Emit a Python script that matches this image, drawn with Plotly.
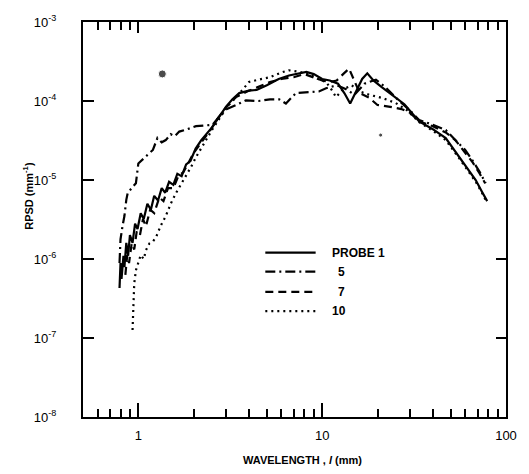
import plotly.graph_objects as go

# ---- data (wavelength in mm, RPSD in mm^-1) ----
p1_x = [0.79, 0.80, 0.81, 0.83, 0.84, 0.86, 0.88, 0.90, 0.93, 0.96, 0.99, 1.03, 1.07, 1.12, 1.17,
        1.22, 1.28, 1.34, 1.40, 1.47, 1.55, 1.63, 1.72, 1.82, 1.92, 2.05, 2.2, 2.35, 2.53, 2.75,
        3.0, 3.25, 3.54, 4.0, 4.4, 5.0, 5.8, 6.6, 7.5, 8.2, 9.0, 10, 11, 12.2, 13.2, 14.2, 15.5,
        16.5, 17.6, 19, 21, 24, 28, 33.7, 40, 47, 55.5, 62, 68.4, 74, 79]
p1_y = [4.3e-7, 8.9e-7, 5.6e-7, 1.1e-6, 7.9e-7, 1.6e-6, 1.1e-6, 2.0e-6, 1.6e-6, 2.8e-6, 2.4e-6,
        3.8e-6, 3.2e-6, 5.0e-6, 4.2e-6, 6.3e-6, 5.5e-6, 7.9e-6, 6.9e-6, 9.5e-6, 8.7e-6, 1.2e-5,
        1.12e-5, 1.58e-5, 1.74e-5, 2.5e-5, 3.2e-5, 3.8e-5, 4.7e-5, 6.3e-5, 8.5e-5, 1.05e-4,
        1.26e-4, 1.35e-4, 1.38e-4, 1.58e-4, 1.9e-4, 2.1e-4, 2.24e-4, 2.34e-4, 2.19e-4, 1.9e-4,
        1.82e-4, 1.66e-4, 1.26e-4, 9.3e-5, 1.41e-4, 1.9e-4, 2.24e-4, 1.82e-4, 1.51e-4, 1.2e-4,
        9.1e-5, 5.5e-5, 4.4e-5, 3.4e-5, 2.0e-5, 1.41e-5, 1.0e-5, 7.1e-6, 5.4e-6]

p5_x = [0.79, 0.80, 0.82, 0.84, 0.86, 0.875, 0.92, 0.97, 1.0, 1.06, 1.15, 1.20, 1.27, 1.34, 1.41,
        1.5, 1.58, 1.67, 1.85, 2.06, 2.3, 2.53, 2.75, 3.0, 3.4, 3.85, 4.5, 5.2, 5.84, 6.35, 7.2,
        8.5, 9.6, 10.5, 12, 13.5, 15, 17, 19.6, 22, 26, 30, 33.7, 40, 47, 53, 60, 65.6, 72, 77.5]
p5_y = [8.9e-7, 1.78e-6, 2.6e-6, 3.5e-6, 5.6e-6, 6.8e-6, 7.9e-6, 9.1e-6, 1.62e-5, 1.82e-5,
        2.2e-5, 2.4e-5, 3.4e-5, 3.0e-5, 3.2e-5, 3.8e-5, 3.6e-5, 4.1e-5, 4.4e-5, 4.8e-5, 4.9e-5,
        5.0e-5, 6.3e-5, 7.8e-5, 8.9e-5, 1.02e-4, 1.0e-4, 1.05e-4, 1.05e-4, 9.3e-5, 1.26e-4,
        1.29e-4, 1.32e-4, 1.45e-4, 1.58e-4, 1.41e-4, 1.2e-4, 1.66e-4, 1.86e-4, 1.51e-4, 1.02e-4,
        7.6e-5, 5.75e-5, 5.0e-5, 4.3e-5, 3.2e-5, 2.4e-5, 1.78e-5, 1.26e-5, 9.1e-6]

p7_x = [0.85, 0.87, 0.89, 0.92, 0.95, 0.98, 1.02, 1.06, 1.10, 1.16, 1.22, 1.30, 1.37, 1.45, 1.55,
        1.65, 1.76, 1.88, 2.0, 2.2, 2.45, 2.7, 3.0, 3.4, 3.9, 4.5, 5.2, 6.0, 7.0, 8.0, 9.0, 10,
        11, 12, 13, 14, 15, 16, 18, 20, 23, 27, 30, 33.7, 40, 47, 53, 60, 66, 72, 77]
p7_y = [6.3e-7, 1.12e-6, 8.9e-7, 1.58e-6, 1.32e-6, 2.24e-6, 2.0e-6, 3.2e-6, 2.6e-6, 4.2e-6,
        3.8e-6, 6.0e-6, 5.4e-6, 7.9e-6, 7.9e-6, 1.12e-5, 1.26e-5, 1.66e-5, 2.2e-5, 3.0e-5, 4.2e-5,
        6.0e-5, 8.3e-5, 1.12e-4, 1.32e-4, 1.51e-4, 1.74e-4, 1.9e-4, 2.0e-4, 2.19e-4, 2.0e-4,
        1.82e-4, 1.74e-4, 1.82e-4, 2.19e-4, 2.57e-4, 1.78e-4, 1.26e-4, 1.1e-4, 8.9e-5, 8.5e-5,
        7.9e-5, 7.1e-5, 5.5e-5, 4.8e-5, 4.0e-5, 3.2e-5, 2.24e-5, 1.66e-5, 1.2e-5, 9.1e-6]

p10_x = [0.93, 0.94, 0.95, 0.97, 1.0, 1.03, 1.07, 1.10, 1.15, 1.20, 1.25, 1.32, 1.41, 1.50, 1.60,
         1.70, 1.82, 1.94, 2.06, 2.25, 2.5, 2.8, 3.1, 3.5, 4.0, 4.5, 5.2, 6.0, 6.6, 7.5, 8.5, 9.5,
         10.5, 11.2, 11.9, 13, 14.5, 16, 18, 21, 25, 29, 33.7, 40, 47, 55.5, 62, 68.4, 74, 79]
p10_y = [1.26e-7, 2.8e-7, 4.9e-7, 7.2e-7, 8.9e-7, 1.12e-6, 1.0e-6, 1.29e-6, 1.58e-6, 1.66e-6,
         1.9e-6, 2.6e-6, 3.5e-6, 5.0e-6, 6.8e-6, 8.7e-6, 1.1e-5, 1.48e-5, 1.95e-5, 2.8e-5, 4.2e-5,
         6.3e-5, 8.9e-5, 1.2e-4, 1.74e-4, 1.86e-4, 2.0e-4, 2.3e-4, 2.45e-4, 2.34e-4, 2.19e-4,
         1.9e-4, 1.74e-4, 1.41e-4, 1.12e-4, 1.41e-4, 1.58e-4, 1.32e-4, 1.2e-4, 1.1e-4, 9.5e-5,
         7.6e-5, 5.4e-5, 4.2e-5, 3.2e-5, 1.9e-5, 1.32e-5, 9.5e-6, 6.9e-6, 5.1e-6]

stray_x = [1.35, 20.8]
stray_y = [2.2e-4, 3.7e-5]
stray_size = [8, 4]

legend_names = ["PROBE 1", "5", "7", "10"]
x_tick_vals = [1, 10, 100]
x_tick_text = ["1", "10", "100"]
x_minor_vals = [0.6, 0.7, 0.8, 0.9, 2, 3, 4, 5, 6, 7, 8, 9, 20, 30, 40, 50, 60, 70, 80, 90]
y_tick_vals = [1e-3, 1e-4, 1e-5, 1e-6, 1e-7, 1e-8]
y_tick_text = ["10<sup>-3</sup>", "10<sup>-4</sup>", "10<sup>-5</sup>", "10<sup>-6</sup>",
               "10<sup>-7</sup>", "10<sup>-8</sup>"]

FONT = "Liberation Sans"
XR = [-0.30103, 2.0]
YR = [-8, -3]
DASHES = ["solid", "10px,4px,2px,4px", "8px,5px", "2px,4px"]

fig = go.Figure()
series = [(p1_x, p1_y), (p5_x, p5_y), (p7_x, p7_y), (p10_x, p10_y)]
for (xs, ys), name, dash in zip(series, legend_names, DASHES):
    fig.add_trace(go.Scatter(x=xs, y=ys, mode="lines", name=name, showlegend=False,
                             line=dict(color="black", width=2.2, dash=dash)))
fig.add_trace(go.Scatter(x=stray_x, y=stray_y, mode="markers", showlegend=False,
                         marker=dict(color="black", size=stray_size)))
# invisible anchors so that the tick-only overlay axes are drawn
for xa, ya in [("x2", "y2"), ("x3", "y3"), ("x4", "y2"), ("x5", "y3")]:
    fig.add_trace(go.Scatter(x=[x_tick_vals[1]], y=[y_tick_vals[2]], xaxis=xa, yaxis=ya,
                             mode="markers", marker=dict(opacity=0), showlegend=False,
                             hoverinfo="skip"))

base = dict(showgrid=False, zeroline=False, tickwidth=2)

fig.update_layout(
    width=529, height=474,
    margin=dict(l=83, r=19, t=22, b=57),
    paper_bgcolor="white", plot_bgcolor="white",
    font=dict(family=FONT, size=12, color="black"),
    showlegend=False,
    # labelled axes: white outside ticks only push the labels away from the frame
    xaxis=dict(type="log", range=XR, tickvals=x_tick_vals, ticktext=x_tick_text,
               ticks="outside", ticklen=5, tickcolor="white",
               showline=True, linecolor="black", linewidth=2,
               tickfont=dict(family=FONT, size=13), **base),
    yaxis=dict(type="log", range=YR, tickvals=y_tick_vals, ticktext=y_tick_text,
               ticks="outside", ticklen=22, tickcolor="white",
               showline=True, linecolor="black", linewidth=2,
               tickfont=dict(family=FONT, size=13), **base),
    # bottom major / minor inside ticks
    xaxis2=dict(type="log", range=XR, overlaying="x", side="bottom", tickvals=x_tick_vals,
                ticks="inside", ticklen=14, tickcolor="black", showticklabels=False, **base),
    xaxis3=dict(type="log", range=XR, overlaying="x", side="bottom", tickvals=x_minor_vals,
                ticks="inside", ticklen=8, tickcolor="black", showticklabels=False, **base),
    # top major / minor inside ticks
    xaxis4=dict(type="log", range=XR, overlaying="x", side="top", tickvals=x_tick_vals,
                ticks="inside", ticklen=11, tickcolor="black", showticklabels=False,
                showline=True, linecolor="black", linewidth=2, **base),
    xaxis5=dict(type="log", range=XR, overlaying="x", side="top", tickvals=x_minor_vals,
                ticks="inside", ticklen=8, tickcolor="black", showticklabels=False, **base),
    # left / right major inside ticks
    yaxis2=dict(type="log", range=YR, overlaying="y", side="left", tickvals=y_tick_vals,
                ticks="inside", ticklen=11, tickcolor="black", showticklabels=False, **base),
    yaxis3=dict(type="log", range=YR, overlaying="y", side="right", tickvals=y_tick_vals,
                ticks="inside", ticklen=10, tickcolor="black", showticklabels=False,
                showline=True, linecolor="black", linewidth=2, **base),
)

# legend drawn like the reference's lettered key
leg_y = [0.416, 0.368, 0.317, 0.268]
leg_text_x = [0.583, 0.597, 0.597, 0.585]
for name, dash, yy, tx in zip(legend_names, DASHES, leg_y, leg_text_x):
    fig.add_shape(type="line", xref="paper", yref="paper", x0=0.431, x1=0.550, y0=yy, y1=yy,
                  line=dict(color="black", width=2.2, dash=dash))
    fig.add_annotation(text="<b>" + name + "</b>", xref="paper", yref="paper", x=tx, y=yy,
                       xanchor="left", yanchor="middle", showarrow=False,
                       font=dict(family=FONT, size=12))

fig.add_annotation(text="<b>RPSD (mm<sup>-1</sup>)</b>", textangle=-90, xref="paper",
                   yref="paper", x=-0.13, y=0.56, xanchor="center", yanchor="middle",
                   showarrow=False, font=dict(family=FONT, size=11))
fig.add_annotation(text="<b>WAVELENGTH , <i>l</i> (mm)</b>", xref="paper", yref="paper",
                   x=0.52, y=-0.11, xanchor="center", yanchor="middle", showarrow=False,
                   font=dict(family=FONT, size=11))
fig.write_html("out.html")
